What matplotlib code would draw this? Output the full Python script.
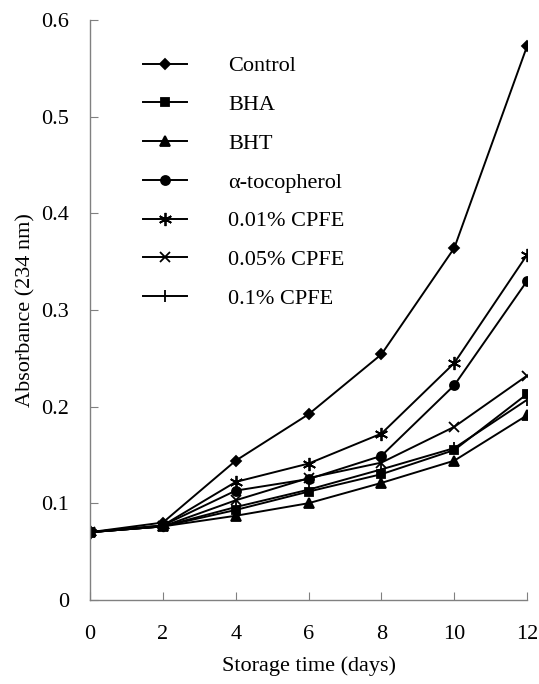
import matplotlib.pyplot as plt

days = [0, 2, 4, 6, 8, 10, 12]
control = [0.070, 0.080, 0.144, 0.192, 0.254, 0.364, 0.573]
bha = [0.070, 0.076, 0.093, 0.112, 0.130, 0.155, 0.213]
bht = [0.070, 0.076, 0.087, 0.100, 0.121, 0.144, 0.191]
tocopherol = [0.070, 0.077, 0.113, 0.125, 0.149, 0.222, 0.330]
cpfe_001 = [0.070, 0.077, 0.122, 0.141, 0.172, 0.245, 0.357]
cpfe_005 = [0.070, 0.076, 0.103, 0.126, 0.142, 0.179, 0.232]
cpfe_01 = [0.070, 0.076, 0.096, 0.114, 0.135, 0.157, 0.207]

labels = ["Control", "BHA", "BHT", "\u03b1-tocopherol", "0.01% CPFE", "0.05% CPFE", "0.1% CPFE"]
series = [control, bha, bht, tocopherol, cpfe_001, cpfe_005, cpfe_01]
markers = ["D", "s", "^", "o", (6, 2, 0), "x", "|"]
sizes = [5.5, 6, 7, 6.5, 9.5, 7.5, 9]

plt.rcParams["font.family"] = ["Liberation Serif", "DejaVu Serif"]
plt.rcParams["font.size"] = 16

fig = plt.figure(figsize=(5.39, 6.84), dpi=100)
ax = fig.add_axes([0.167, 0.123, 0.811, 0.848])

for vals, lab, m, s in zip(series, labels, markers, sizes):
    ax.plot(days, vals, color="black", lw=1.4, marker=m, markersize=s,
            markeredgewidth=1.3, label=lab)

ax.set_xlim(0, 12)
ax.set_ylim(0, 0.6)
ax.set_xticks(days)
ax.set_yticks([0, 0.1, 0.2, 0.3, 0.4, 0.5, 0.6])
ax.set_yticklabels(["0", "0.1", "0.2", "0.3", "0.4", "0.5", "0.6"])
ax.spines["top"].set_visible(False)
ax.spines["right"].set_visible(False)
for sp in ["left", "bottom"]:
    ax.spines[sp].set_color("#808080")
    ax.spines[sp].set_linewidth(1)
ax.tick_params(direction="in", length=6, color="#808080")
ax.tick_params(axis="y", pad=15)
ax.tick_params(axis="x", pad=18)
ax.set_xlabel("Storage time (days)", labelpad=9)
ax.set_ylabel("Absorbance (234 nm)", labelpad=4)

ax.legend(loc="upper left", bbox_to_anchor=(0.121, 0.938), frameon=False,
          borderpad=0, borderaxespad=0,
          handlelength=2.0, handletextpad=1.85, labelspacing=0.82)

plt.savefig("out.png", dpi=100)
